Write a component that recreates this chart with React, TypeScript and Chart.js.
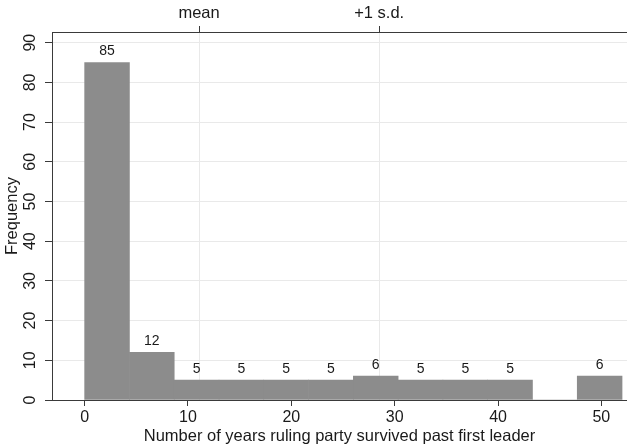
import React, { useEffect, useRef } from 'react';
import { Chart, registerables } from 'chart.js';

Chart.register(...registerables);

// Histogram bin edges (years) and frequencies
const binEdges = [0, 4.333, 8.667, 13, 17.333, 21.667, 26, 30.333, 34.667, 39, 43.333, 47.667, 52];
const frequencies = [85, 12, 5, 5, 5, 5, 6, 5, 5, 5, 0, 6];
const xTicks = [0, 10, 20, 30, 40, 50];
const yTicks = [0, 10, 20, 30, 40, 50, 60, 70, 80, 90];
const refValues = [11.07, 28.5];
const refLabels = ['mean', '+1 s.d.'];

const X_MIN = -3.16;
const X_MAX = 52.48;
const Y_MAX = 92.7;

const FONT = "'Liberation Sans', Arial, Helvetica, sans-serif";
const TEXT = '#1a1a1a';
const AXIS = '#3a3a3a';
const GRID = '#e9e9e9';

const labelPlugin = {
  id: 'labels',
  afterDatasetsDraw(chart: any) {
    const ctx = chart.ctx;
    const meta = chart.getDatasetMeta(0);
    ctx.save();
    ctx.fillStyle = TEXT;
    ctx.font = `14px ${FONT}`;
    ctx.textAlign = 'center';
    ctx.textBaseline = 'middle';
    meta.data.forEach((bar: any, i: number) => {
      const v = frequencies[i];
      if (v > 0) ctx.fillText(String(v), bar.x, bar.y - 11.5);
    });
    ctx.restore();
  },
  afterDraw(chart: any) {
    const ctx = chart.ctx;
    const y = chart.scales.y;
    ctx.save();
    ctx.fillStyle = TEXT;
    ctx.font = `16px ${FONT}`;
    ctx.textAlign = 'center';
    ctx.textBaseline = 'middle';
    yTicks.forEach((t) => {
      const py = y.getPixelForValue(t);
      ctx.save();
      ctx.translate(31, py);
      ctx.rotate(-Math.PI / 2);
      ctx.fillText(String(t), 0, 0);
      ctx.restore();
    });
    ctx.restore();
  },
};

export default function App() {
  const ref = useRef<HTMLCanvasElement>(null);
  useEffect(() => {
    if (!ref.current) return;
    const data = frequencies.map((f, i) => ({ x: (binEdges[i] + binEdges[i + 1]) / 2, y: f }));
    const chart = new Chart(ref.current, {
      type: 'bar',
      data: {
        datasets: [
          {
            data,
            backgroundColor: '#8c8c8c',
            borderWidth: 0,
            barPercentage: 1,
            categoryPercentage: 1,
            xAxisID: 'x',
            yAxisID: 'y',
          },
        ],
      },
      options: {
        responsive: false,
        animation: false,
        layout: { padding: 0 },
        plugins: { legend: { display: false }, tooltip: { enabled: false } },
        scales: {
          x: {
            type: 'linear',
            position: 'bottom',
            min: X_MIN,
            max: X_MAX,
            offset: false,
            afterBuildTicks: (s: any) => {
              s.ticks = xTicks.map((v) => ({ value: v }));
            },
            afterFit: (s: any) => {
              s.height = 48;
            },
            ticks: {
              autoSkip: false,
              maxRotation: 0,
              padding: 2,
              color: TEXT,
              font: { family: FONT, size: 16 },
              callback: (v: any) => String(v),
            },
            grid: {
              offset: false,
              drawOnChartArea: false,
              drawTicks: true,
              tickLength: 6,
              tickColor: AXIS,
            },
            border: { display: true, color: AXIS, width: 1 },
            title: {
              display: true,
              text: 'Number of years ruling party survived past first leader',
              color: TEXT,
              font: { family: FONT, size: 16.5 },
              padding: { top: 0, bottom: 2 },
            },
          },
          x2: {
            type: 'linear',
            position: 'top',
            min: X_MIN,
            max: X_MAX,
            offset: false,
            afterBuildTicks: (s: any) => {
              s.ticks = refValues.map((v) => ({ value: v }));
            },
            afterFit: (s: any) => {
              s.height = 32;
            },
            ticks: {
              autoSkip: false,
              maxRotation: 0,
              padding: 3,
              color: TEXT,
              font: { family: FONT, size: 16.5 },
              callback: (_v: any, i: number) => refLabels[i],
            },
            grid: {
              offset: false,
              drawOnChartArea: true,
              color: GRID,
              drawTicks: true,
              tickLength: 6,
              tickColor: AXIS,
            },
            border: { display: true, color: AXIS, width: 1 },
          },
          y: {
            type: 'linear',
            position: 'left',
            min: 0,
            max: Y_MAX,
            afterBuildTicks: (s: any) => {
              s.ticks = yTicks.map((v) => ({ value: v }));
            },
            afterFit: (s: any) => {
              s.width = 52;
            },
            ticks: { display: false },
            grid: {
              color: GRID,
              drawTicks: true,
              tickLength: 7,
              tickColor: AXIS,
            },
            border: { display: true, color: AXIS, width: 1 },
            title: {
              display: true,
              text: 'Frequency',
              color: TEXT,
              font: { family: FONT, size: 16.5 },
              padding: { top: 3, bottom: 0 },
            },
          },
        },
      } as any,
      plugins: [labelPlugin],
    });
    return () => chart.destroy();
  }, []);
  return (
    <div style={{ position: 'absolute', left: 0, top: 0, width: 627, height: 448, background: '#fff' }}>
      <canvas ref={ref} width={627} height={448} style={{ display: 'block' }} />
    </div>
  );
}
